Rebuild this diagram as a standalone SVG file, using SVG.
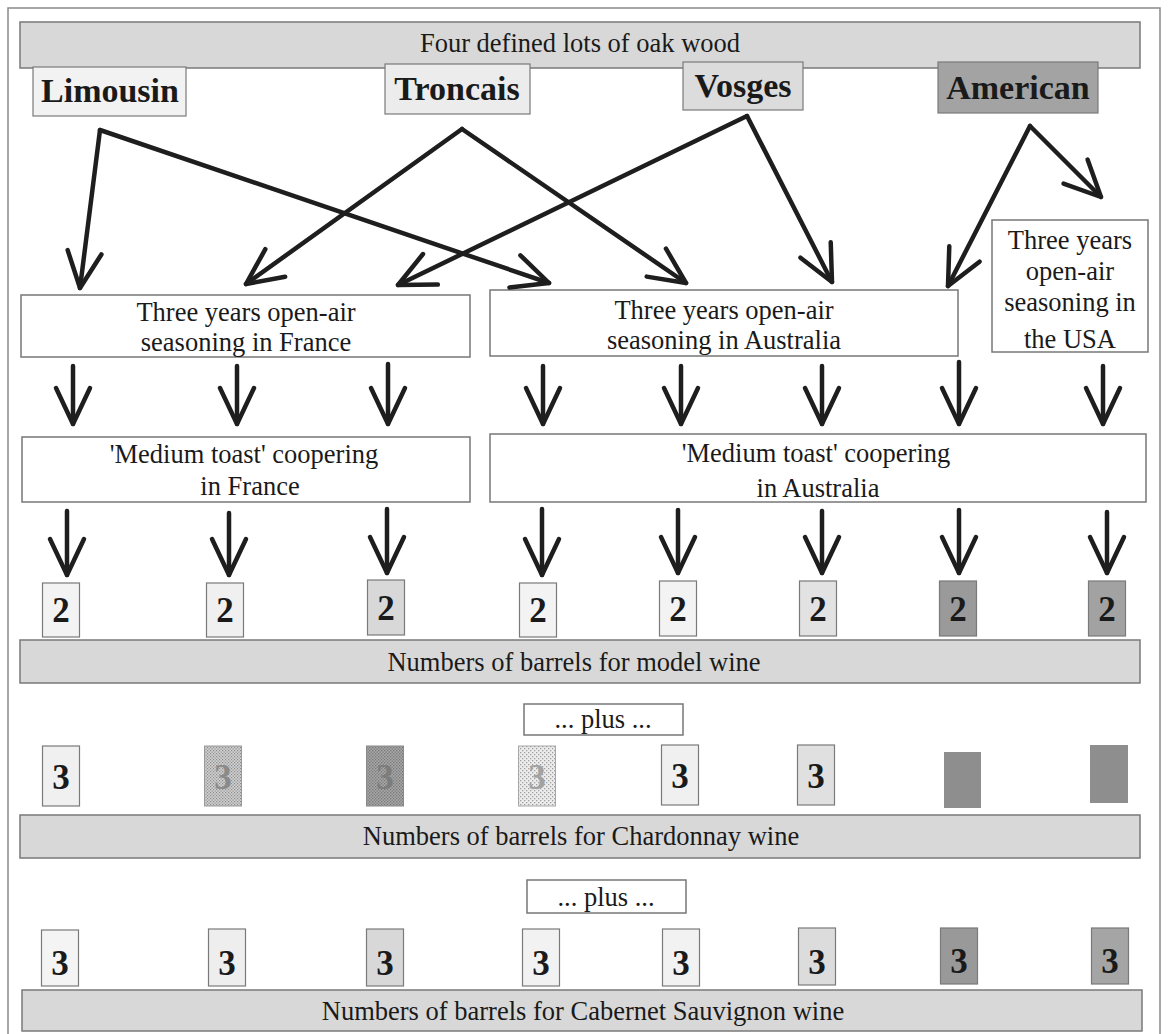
<svg xmlns="http://www.w3.org/2000/svg" width="1168" height="1034" viewBox="0 0 1168 1034">
  <style>
    text { font-family: "Liberation Serif", "Times New Roman", serif; fill: #1a1a1a; }
    .t { font-size: 26.5px; text-anchor: middle; }
    .wood { font-size: 34px; font-weight: bold; text-anchor: middle; }
    .num { font-size: 35px; font-weight: bold; text-anchor: middle; }
    .box { fill: #ffffff; stroke: #777777; stroke-width: 1.5; }
    .band { fill: #d8d8d8; stroke: #7a7a7a; stroke-width: 1.5; }
    .brl { stroke: #7a7a7a; stroke-width: 1.2; }
    .arr { fill: none; stroke: #1e1e1e; stroke-width: 4.5; stroke-linecap: round; marker-end: url(#ah); }
  </style>
  <defs>
    <marker id="ah" markerUnits="userSpaceOnUse" viewBox="-40 -20 44 40" markerWidth="44" markerHeight="40" refX="0" refY="0" orient="auto" overflow="visible">
      <path d="M-36,-17 L0,0 L-36,17" fill="none" stroke="#1e1e1e" stroke-width="4.5" stroke-linecap="round" stroke-linejoin="round"/>
    </marker>
    <pattern id="dotLight" width="4" height="4" patternUnits="userSpaceOnUse">
      <rect width="4" height="4" fill="#ececec"/>
      <rect x="0" y="0" width="1.3" height="1.3" fill="#a0a0a0"/>
      <rect x="2" y="2" width="1.3" height="1.3" fill="#a0a0a0"/>
    </pattern>
    <pattern id="dotMid" width="3" height="3" patternUnits="userSpaceOnUse">
      <rect width="3" height="3" fill="#d0d0d0"/>
      <rect x="0" y="0" width="1.2" height="1.2" fill="#8c8c8c"/>
      <rect x="1.5" y="1.5" width="1.2" height="1.2" fill="#8c8c8c"/>
    </pattern>
    <pattern id="dotDark" width="3" height="3" patternUnits="userSpaceOnUse">
      <rect width="3" height="3" fill="#a8a8a8"/>
      <rect x="0" y="0" width="1.3" height="1.3" fill="#777777"/>
      <rect x="1.5" y="1.5" width="1.3" height="1.3" fill="#777777"/>
    </pattern>
  </defs>

  <rect width="1168" height="1034" fill="#ffffff"/>
  <!-- page frame -->
  <path d="M8,1034 L8,8 L1160,8 L1160,1034" fill="none" stroke="#8a8a8a" stroke-width="1.5"/>

  <!-- header band -->
  <g id="lots">
    <rect class="band" x="20" y="22" width="1120" height="46"/>
    <text class="t" x="580" y="52">Four defined lots of oak wood</text>
  </g>

  <!-- oak sources -->
  <g id="limousin">
    <rect class="brl" x="33" y="67" width="153" height="49" fill="#f2f2f2"/>
    <text class="wood" x="110" y="102">Limousin</text>
  </g>
  <g id="troncais">
    <rect class="brl" x="385" y="64" width="145" height="50" fill="#ececec"/>
    <text class="wood" x="457" y="100">Troncais</text>
  </g>
  <g id="vosges">
    <rect class="brl" x="683" y="62" width="120" height="48" fill="#dcdcdc"/>
    <text class="wood" x="743" y="97">Vosges</text>
  </g>
  <g id="american">
    <rect class="brl" x="938" y="62" width="160" height="51" fill="#a3a3a3"/>
    <text class="wood" x="1018" y="99">American</text>
  </g>

  <!-- seasoning -->
  <g id="season-france">
    <rect class="box" x="21" y="295" width="449" height="62"/>
    <text class="t" x="246" y="321">Three years open-air</text>
    <text class="t" x="246" y="351">seasoning in France</text>
  </g>
  <g id="season-australia">
    <rect class="box" x="490" y="290" width="468" height="66"/>
    <text class="t" x="724" y="319">Three years open-air</text>
    <text class="t" x="724" y="349">seasoning in Australia</text>
  </g>
  <g id="season-usa">
    <rect class="box" x="992" y="220" width="156" height="132"/>
    <text class="t" x="1070" y="249">Three years</text>
    <text class="t" x="1070" y="280">open-air</text>
    <text class="t" x="1070" y="311">seasoning in</text>
    <text class="t" x="1070" y="348">the USA</text>
  </g>

  <!-- coopering -->
  <g id="cooper-france">
    <rect class="box" x="22" y="437" width="448" height="65"/>
    <text class="t" x="244" y="463">'Medium toast' coopering</text>
    <text class="t" x="250" y="495">in France</text>
  </g>
  <g id="cooper-australia">
    <rect class="box" x="490" y="434" width="656" height="68"/>
    <text class="t" x="816" y="462">'Medium toast' coopering</text>
    <text class="t" x="818" y="497">in Australia</text>
  </g>

  <!-- connectors -->
  <g id="connectors">
    <line class="arr" x1="100" y1="130" x2="80" y2="288"/>
    <line class="arr" x1="100" y1="130" x2="549" y2="283"/>
    <line class="arr" x1="462" y1="129" x2="246" y2="284"/>
    <line class="arr" x1="462" y1="129" x2="686" y2="283"/>
    <line class="arr" x1="747" y1="116" x2="398" y2="285"/>
    <line class="arr" x1="747" y1="116" x2="832" y2="282"/>
    <line class="arr" x1="1030" y1="126" x2="948" y2="286"/>
    <line class="arr" x1="1030" y1="126" x2="1101" y2="197"/>

    <line class="arr" x1="73" y1="366" x2="73" y2="424"/>
    <line class="arr" x1="237" y1="366" x2="237" y2="424"/>
    <line class="arr" x1="388" y1="364" x2="388" y2="424"/>
    <line class="arr" x1="543" y1="366" x2="543" y2="424"/>
    <line class="arr" x1="681" y1="366" x2="681" y2="424"/>
    <line class="arr" x1="822" y1="366" x2="822" y2="424"/>
    <line class="arr" x1="959" y1="362" x2="959" y2="424"/>
    <line class="arr" x1="1103" y1="366" x2="1103" y2="424"/>

    <line class="arr" x1="67" y1="511" x2="67" y2="575"/>
    <line class="arr" x1="229" y1="513" x2="229" y2="575"/>
    <line class="arr" x1="387" y1="509" x2="387" y2="573"/>
    <line class="arr" x1="542" y1="509" x2="542" y2="575"/>
    <line class="arr" x1="678" y1="510" x2="678" y2="573"/>
    <line class="arr" x1="822" y1="511" x2="822" y2="573"/>
    <line class="arr" x1="959" y1="510" x2="959" y2="573"/>
    <line class="arr" x1="1107" y1="512" x2="1107" y2="573"/>
  </g>

  <!-- model wine barrels -->
  <g id="model-barrels">
    <rect class="brl" x="42.5" y="583" width="37" height="54" fill="#f3f3f3"/>
    <rect class="brl" x="206.5" y="583" width="37" height="54" fill="#f0f0f0"/>
    <rect class="brl" x="367.5" y="580" width="37" height="55" fill="#d8d8d8"/>
    <rect class="brl" x="519.5" y="583" width="37" height="54" fill="#f3f3f3"/>
    <rect class="brl" x="659.5" y="581" width="37" height="55" fill="#f3f3f3"/>
    <rect class="brl" x="799.5" y="581" width="37" height="55" fill="#e2e2e2"/>
    <rect class="brl" x="939.5" y="581" width="37" height="55" fill="#9a9a9a"/>
    <rect class="brl" x="1088.5" y="581" width="37" height="55" fill="#a2a2a2"/>
    <text class="num" x="61" y="622">2</text>
    <text class="num" x="225" y="622">2</text>
    <text class="num" x="386" y="620">2</text>
    <text class="num" x="538" y="622">2</text>
    <text class="num" x="678" y="621">2</text>
    <text class="num" x="818" y="621">2</text>
    <text class="num" x="958" y="621">2</text>
    <text class="num" x="1107" y="621">2</text>
  </g>
  <g id="model-label">
    <rect class="band" x="20" y="640" width="1120" height="43"/>
    <text class="t" x="574" y="671">Numbers of barrels for model wine</text>
  </g>

  <g id="plus-1">
    <rect class="box" x="524" y="704" width="159" height="31"/>
    <text class="t" x="603" y="728">... plus ...</text>
  </g>

  <!-- chardonnay barrels -->
  <g id="chardonnay-barrels">
    <rect class="brl" x="42.5" y="746" width="37" height="60" fill="#f0f0f0"/>
    <rect x="204.5" y="746" width="37" height="60" fill="url(#dotMid)" stroke="#9a9a9a" stroke-width="1"/>
    <rect x="366.5" y="746" width="37" height="60" fill="url(#dotDark)" stroke="#8a8a8a" stroke-width="1"/>
    <rect x="518.5" y="746" width="37" height="60" fill="url(#dotLight)" stroke="#a8a8a8" stroke-width="1"/>
    <rect class="brl" x="661.5" y="745" width="37" height="60" fill="#f0f0f0"/>
    <rect class="brl" x="797.5" y="745" width="37" height="60" fill="#e0e0e0"/>
    <rect x="944" y="752" width="37" height="56" fill="#8e8e8e"/>
    <rect x="1090" y="745" width="38" height="58" fill="#8e8e8e"/>
    <text class="num" x="61" y="789">3</text>
    <text class="num" x="223" y="789" style="fill:#8a8a8a">3</text>
    <text class="num" x="385" y="789" style="fill:#7c7c7c">3</text>
    <text class="num" x="537" y="789" style="fill:#a2a2a2">3</text>
    <text class="num" x="680" y="788">3</text>
    <text class="num" x="816" y="788">3</text>
  </g>
  <g id="chardonnay-label">
    <rect class="band" x="20" y="815" width="1120" height="43"/>
    <text class="t" x="581" y="845">Numbers of barrels for Chardonnay wine</text>
  </g>

  <g id="plus-2">
    <rect class="box" x="527" y="880" width="159" height="33"/>
    <text class="t" x="606" y="906">... plus ...</text>
  </g>

  <!-- cabernet sauvignon barrels -->
  <g id="cabernet-barrels">
    <rect class="brl" x="41.5" y="930" width="37" height="56" fill="#f4f4f4"/>
    <rect class="brl" x="208.5" y="929" width="37" height="57" fill="#eeeeee"/>
    <rect class="brl" x="366.5" y="929" width="37" height="57" fill="#d8d8d8"/>
    <rect class="brl" x="522.5" y="929" width="37" height="57" fill="#f2f2f2"/>
    <rect class="brl" x="662.5" y="929" width="37" height="57" fill="#f2f2f2"/>
    <rect class="brl" x="798.5" y="928" width="37" height="57" fill="#dcdcdc"/>
    <rect class="brl" x="940.5" y="928" width="37" height="56" fill="#999999"/>
    <rect class="brl" x="1091.5" y="928" width="37" height="56" fill="#a5a5a5"/>
    <text class="num" x="60" y="975">3</text>
    <text class="num" x="227" y="975">3</text>
    <text class="num" x="385" y="975">3</text>
    <text class="num" x="541" y="975">3</text>
    <text class="num" x="681" y="975">3</text>
    <text class="num" x="817" y="974">3</text>
    <text class="num" x="959" y="973">3</text>
    <text class="num" x="1110" y="973">3</text>
  </g>
  <g id="cabernet-label">
    <rect class="band" x="22" y="990" width="1120" height="41"/>
    <text class="t" x="583" y="1020">Numbers of barrels for Cabernet Sauvignon wine</text>
  </g>
</svg>
